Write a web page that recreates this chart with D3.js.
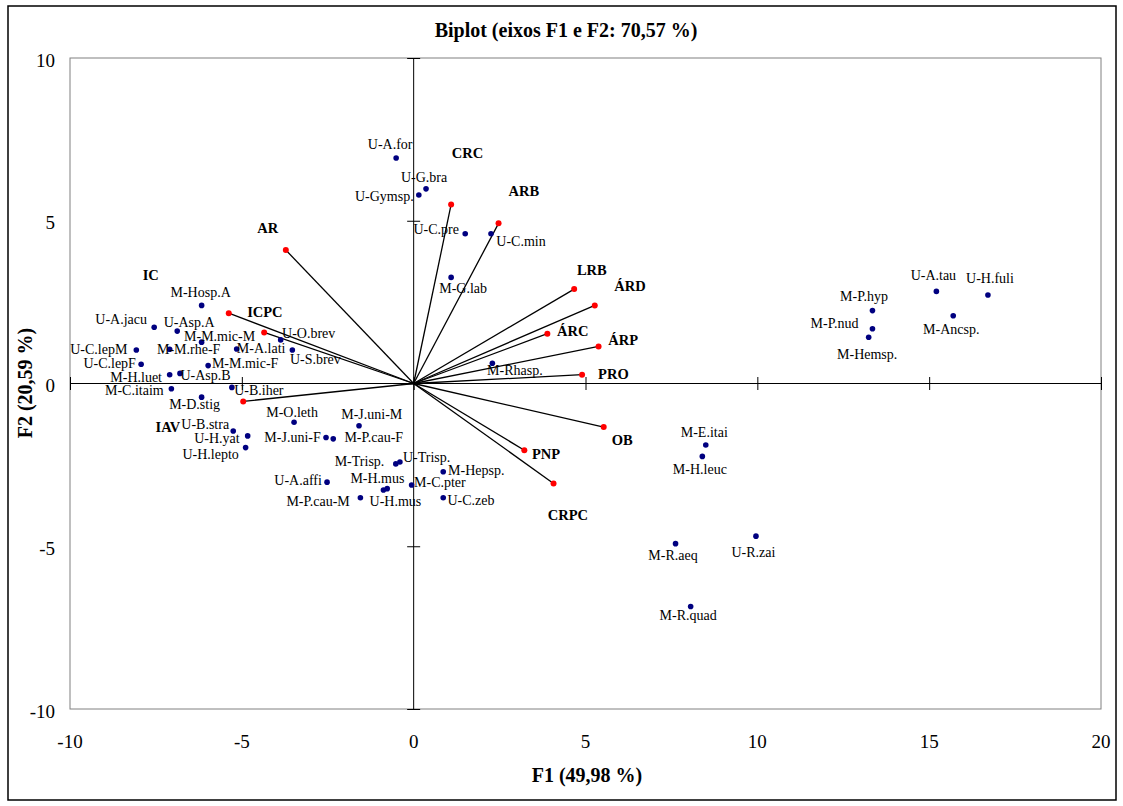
<!DOCTYPE html>
<html>
<head>
<meta charset="utf-8">
<script src="https://cdn.jsdelivr.net/npm/d3@7"></script>
<style>
  body { margin: 0; background: #fff; }
  text { font-family: "Liberation Serif", "Times New Roman", serif; }
</style>
</head>
<body>
<script>
// observations (blue points)
const obsNames = ['U-A.for', 'U-G.bra', 'U-Gymsp.', 'U-C.pre', 'U-C.min', 'M-G.lab', 'M-Rhasp.',
  'U-A.tau', 'U-H.fuli', 'M-P.hyp', 'M-Ancsp.', 'M-P.nud', 'M-Hemsp.',
  'M-E.itai', 'M-H.leuc', 'M-R.aeq', 'U-R.zai', 'M-R.quad',
  'M-Hosp.A', 'U-A.jacu', 'U-Asp.A', 'M-M.mic-M', 'U-O.brev', 'U-C.lepM', 'M-M.rhe-F', 'M-A.lati',
  'U-S.brev', 'U-C.lepF', 'M-M.mic-F', 'M-H.luet', 'U-Asp.B', 'M-C.itaim', 'U-B.iher', 'M-D.stig',
  'U-B.stra', 'U-H.yat', 'U-H.lepto', 'M-O.leth', 'M-J.uni-M', 'M-J.uni-F', 'M-P.cau-F',
  'M-Trisp.', 'U-Trisp.', 'U-A.affi', 'M-H.mus', 'U-H.mus', 'M-C.pter', 'M-P.cau-M', 'M-Hepsp.', 'U-C.zeb']
const obsF1 = [-0.51, 0.36, 0.15, 1.50, 2.25, 1.09, 2.29,
  15.21, 16.71, 13.35, 15.70, 13.35, 13.24,
  8.50, 8.40, 7.62, 9.96, 8.06,
  -6.17, -7.55, -6.88, -6.17, -3.87, -8.07, -7.10, -5.15,
  -3.53, -7.93, -5.98, -7.10, -6.80, -7.05, -5.29, -6.17,
  -5.25, -4.83, -4.89, -3.48, -1.59, -2.55, -2.34,
  -0.52, -0.40, -2.52, -0.88, -0.77, -0.06, -1.55, 0.86, 0.86]
const obsF2 = [6.93, 5.98, 5.79, 4.60, 4.60, 3.26, 0.62,
  2.83, 2.72, 2.24, 2.08, 1.68, 1.42,
  -1.89, -2.24, -4.92, -4.69, -6.85,
  2.40, 1.73, 1.61, 1.27, 1.34, 1.03, 1.05, 1.06,
  1.03, 0.59, 0.55, 0.27, 0.31, -0.16, -0.12, -0.42,
  -1.46, -1.61, -1.97, -1.19, -1.30, -1.66, -1.70,
  -2.47, -2.41, -3.03, -3.27, -3.23, -3.12, -3.51, -2.71, -3.51]

// variables (red vectors)
const varNames = ['CRC', 'ARB', 'AR', 'LRB', 'ÁRD', 'ÁRC', 'ÁRP', 'PRO', 'OB', 'PNP', 'CRPC', 'IC', 'ICPC', 'IAV']
const varF1 = [1.09, 2.47, -3.72, 4.67, 5.27, 3.89, 5.38, 4.90, 5.53, 3.22, 4.07, -5.38, -4.35, -4.96]
const varF2 = [5.50, 4.92, 4.10, 2.90, 2.40, 1.53, 1.14, 0.27, -1.34, -2.05, -3.07, 2.16, 1.57, -0.55]

const xTicks = [-10, -5, 0, 5, 10, 15, 20]
const yTicks = [-10, -5, 0, 5, 10]

// label placement (pixel offsets from the point: text centre, baseline)
const obsLabelOff = [[-6, -8.5], [-2, -6.5], [-34.5, 6], [-29, 0], [30, 12], [12, 16], [22.5, 11.5],
  [-3, -11.5], [2, -12], [-8.5, -9.5], [-2, 18], [-38, -0.5], [-1.5, 22],
  [-1.5, -8], [-2.5, 17.5], [-2.5, 16], [-2.5, 21], [-2.5, 14],
  [-1, -8], [-33, -3.5], [12, -4], [18, -1.5], [28, -2], [-37.5, 4.5], [19, 5], [24.5, 4],
  [23, 14.5], [-31.5, 3.5], [37, 2], [-33.5, 7], [25.5, 6.5], [-37, 6.5], [27, 7.5], [-7, 11.5],
  [-28, -2.5], [-30.7, 7.5], [-35, 11], [-2, -5.5], [12.7, -7], [-33.5, 4.5], [40.5, 3.5],
  [-36.3, 2], [26.7, 0], [-29, 2.5], [-6, -6.5], [8.2, 17.3], [28.3, 2], [-42.3, 8.3], [33, 3], [27.7, 7]]
const varLabelOff = [[16.4, -46], [25.3, -27], [-18, -17], [17.7, -14], [35.3, -14], [25.4, 2.3], [24.6, -1.3],
  [31.3, 4.3], [18.6, 18], [21.7, 8.7], [14.3, 36.7], [-78, -33], [0.7, -15.6], [-75.3, 30.7]]

const W = 1123, H = 806
const plot = { left: 70, top: 58, right: 1101, bottom: 709 }

const svg = d3.select('body').append('svg')
  .attr('width', W)
  .attr('height', H)

// outer frame
svg.append('rect')
  .attr('x', 8).attr('y', 6)
  .attr('width', 1108).attr('height', 794)
  .attr('fill', 'none')
  .attr('stroke', '#000')
  .attr('stroke-width', 1.5)

const x = d3.scaleLinear().domain([-10, 20]).range([plot.left, plot.right])
const y = d3.scaleLinear().domain([-10, 10]).range([plot.bottom, plot.top])

// plot area
svg.append('rect')
  .attr('x', plot.left).attr('y', plot.top)
  .attr('width', plot.right - plot.left)
  .attr('height', plot.bottom - plot.top)
  .attr('fill', 'none')
  .attr('stroke', '#808080')
  .attr('stroke-width', 1)

// axes through origin with crossing ticks
const xAxis = d3.axisBottom(x).tickValues(xTicks).tickSize(13).tickFormat('')
const yAxis = d3.axisLeft(y).tickValues(yTicks).tickSize(13).tickFormat('')

svg.append('g')
  .attr('transform', 'translate(0,' + (y(0) - 6.5) + ')')
  .call(xAxis)
  .call(g => g.select('.domain').remove())
  .selectAll('line').attr('stroke', '#000')
svg.append('line')
  .attr('x1', plot.left).attr('x2', plot.right)
  .attr('y1', y(0)).attr('y2', y(0))
  .attr('stroke', '#000')

svg.append('g')
  .attr('transform', 'translate(' + (x(0) + 6.5) + ',0)')
  .call(yAxis)
  .call(g => g.select('.domain').remove())
  .selectAll('line').attr('stroke', '#000')
svg.append('line')
  .attr('x1', x(0)).attr('x2', x(0))
  .attr('y1', plot.top).attr('y2', plot.bottom)
  .attr('stroke', '#000')

// tick labels
svg.selectAll('.xlab')
  .data(xTicks)
  .enter().append('text')
  .attr('x', d => x(d))
  .attr('y', 748)
  .attr('text-anchor', 'middle')
  .attr('font-size', 19)
  .text(d => d)

svg.selectAll('.ylab')
  .data(yTicks)
  .enter().append('text')
  .attr('x', 55)
  .attr('y', d => y(d) + 8.5)
  .attr('text-anchor', 'end')
  .attr('font-size', 19)
  .text(d => d)

// titles
svg.append('text')
  .attr('x', 566).attr('y', 37)
  .attr('text-anchor', 'middle')
  .attr('font-size', 20).attr('font-weight', 'bold')
  .text('Biplot (eixos F1 e F2: 70,57 %)')

svg.append('text')
  .attr('x', 587).attr('y', 782)
  .attr('text-anchor', 'middle')
  .attr('font-size', 20).attr('font-weight', 'bold')
  .text('F1 (49,98 %)')

svg.append('text')
  .attr('transform', 'translate(32,383) rotate(-90)')
  .attr('text-anchor', 'middle')
  .attr('font-size', 20).attr('font-weight', 'bold')
  .text('F2 (20,59 %)')

// vectors
const vars = varNames.map((n, i) => ({ name: n, f1: varF1[i], f2: varF2[i], off: varLabelOff[i] }))
const obs = obsNames.map((n, i) => ({ name: n, f1: obsF1[i], f2: obsF2[i], off: obsLabelOff[i] }))

svg.selectAll('.vec')
  .data(vars)
  .enter().append('line')
  .attr('x1', x(0)).attr('y1', y(0))
  .attr('x2', d => x(d.f1)).attr('y2', d => y(d.f2))
  .attr('stroke', '#000')
  .attr('stroke-width', 1.3)

svg.selectAll('.vdot')
  .data(vars)
  .enter().append('circle')
  .attr('cx', d => x(d.f1)).attr('cy', d => y(d.f2))
  .attr('r', 3)
  .attr('fill', '#ff0000')

svg.selectAll('.vlab')
  .data(vars)
  .enter().append('text')
  .attr('x', d => x(d.f1) + d.off[0])
  .attr('y', d => y(d.f2) + d.off[1])
  .attr('text-anchor', 'middle')
  .attr('font-size', 14.5).attr('font-weight', 'bold')
  .text(d => d.name)

// observations
svg.selectAll('.odot')
  .data(obs)
  .enter().append('circle')
  .attr('cx', d => x(d.f1)).attr('cy', d => y(d.f2))
  .attr('r', 2.8)
  .attr('fill', '#000080')

svg.selectAll('.olab')
  .data(obs)
  .enter().append('text')
  .attr('x', d => x(d.f1) + d.off[0])
  .attr('y', d => y(d.f2) + d.off[1])
  .attr('text-anchor', 'middle')
  .attr('font-size', 14)
  .attr('fill', '#000')
  .text(d => d.name)
</script>
</body>
</html>
